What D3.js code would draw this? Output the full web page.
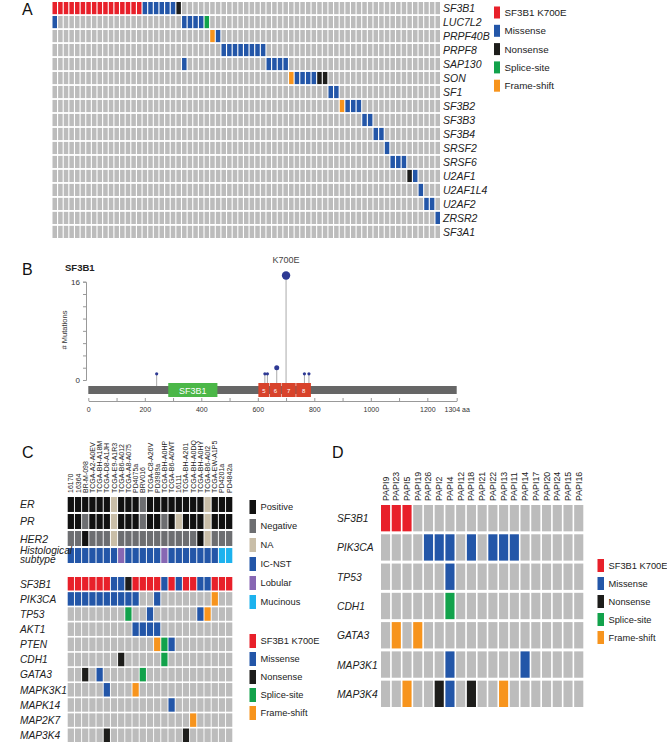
<!DOCTYPE html>
<html><head><meta charset="utf-8">
<script src="https://cdn.jsdelivr.net/npm/d3@7/dist/d3.min.js"></script>
<style>body{margin:0;background:#fff}text{font-family:"Liberation Sans",Arial,Helvetica,sans-serif}</style>
</head><body><svg id="chart" width="667" height="744"></svg>
<script>
// ---------- shared ----------
const mutationTypes = ["K", "M", "N", "S", "F"];
const mutationLabels = ["SF3B1 K700E", "Missense", "Nonsense", "Splice-site", "Frame-shift"];
const mutationColors = ["#e8202a", "#2356a8", "#1d1d1b", "#12a24b", "#f7941d"];
const emptyColor = "#bcbcbc";

// ---------- panel A ----------
const samplesA = 69;
const genesA = ["SF3B1","LUC7L2","PRPF40B","PRPF8","SAP130","SON","SF1","SF3B2","SF3B3","SF3B4","SRSF2","SRSF6","U2AF1","U2AF1L4","U2AF2","ZRSR2","SF3A1"];
// runs: [gene, first sample, last sample, type]
const mutationRunsA = [
  ["SF3B1",0,15,"K"],["SF3B1",16,21,"M"],["SF3B1",22,22,"N"],
  ["LUC7L2",0,0,"M"],["LUC7L2",23,26,"M"],["LUC7L2",27,27,"S"],
  ["PRPF40B",28,28,"F"],["PRPF40B",29,29,"M"],
  ["PRPF8",30,37,"M"],
  ["SAP130",23,23,"M"],["SAP130",38,41,"M"],
  ["SON",42,42,"F"],["SON",43,46,"M"],["SON",47,48,"N"],
  ["SF1",49,50,"M"],
  ["SF3B2",51,51,"F"],["SF3B2",52,54,"M"],
  ["SF3B3",55,56,"M"],
  ["SF3B4",57,58,"M"],
  ["SRSF2",59,59,"M"],
  ["SRSF6",60,62,"M"],
  ["U2AF1",63,63,"N"],["U2AF1",64,64,"M"],
  ["U2AF1L4",65,65,"M"],
  ["U2AF2",66,67,"M"],
  ["ZRSR2",68,68,"M"]
];

// ---------- panel B ----------
const proteinLength = 1304;
const lolliPositions = [242, 625, 634, 667, 700, 765, 781];
const lolliCounts = [1, 1, 1, 2, 17, 1, 1];
const domainLabels = ["SF3B1", "5", "6", "7", "8"];
const domainStarts = [283, 602, 643, 684, 736];
const domainEnds = [457, 641, 682, 734, 788];
const xTicksB = [0,100,200,300,400,500,600,700,800,900,1000,1100,1200,1304];
const yTicksB = [0,2,4,6,8,10,12,14,16];

// ---------- panel C ----------
const samplesC = ["16170","16364","BR-M-098","TCGA-A2-A0EV","TCGA-BH-A18M","TCGA-D8-A1JH","TCGA-E9-A1R3","TCGA-B6-A012","TCGA-A8-A075","PD4075a","BRV016","TCGA-C8-A26V","PD3989a","TCGA-BH-A0HP","TCGA-B6-A0WT","16111","TCGA-BH-A201","TCGA-BH-A0DQ","TCGA-BH-A0HY","TCGA-B6-A0I2","TCGA-EW-A1P5","PD4201a","PD4842a"];
const clinicalRowsC = ["ER","PR","HER2","Histological subtype"];
const erStatus   = "PPPPPPAPPPNPPPPPPPPAPPP";
const prStatus   = "PPNPPPAPPPNPPNPAPPPAPPP";
const her2Status = "NNPNNNANNNNNNNNNNNPANNN";
const histology  = "IIIIIIILIIIIILIIIIIIIMM";
const clinicalCodes = ["P","N","A","I","L","M"];
const clinicalLabels = ["Positive","Negative","NA","IC-NST","Lobular","Mucinous"];
const clinicalColors = ["#111111","#6d6e71","#c9bea8","#2356a8","#8767b3","#1cb2ee"];
const genesC = ["SF3B1","PIK3CA","TP53","AKT1","PTEN","CDH1","GATA3","MAPK3K1","MAPK14","MAP2K7","MAP3K4"];
const mutationsC = [
  "KKKKKKMMNKKKKMKMKKMMKKK",
  "MMMMMMMMMM..M.......F..",
  "........S..M......MF...",
  ".........MMMM..........",
  "............FSM........",
  ".......N.....S.........",
  "..N.M.....S............",
  ".....M...F.............",
  "..............M........",
  ".................F.....",
  ".....N..........N......"
];

// ---------- panel D ----------
const samplesD = ["PAPI9","PAPI23","PAPI5","PAPI19","PAPI26","PAPI2","PAPI4","PAPI12","PAPI18","PAPI21","PAPI22","PAPI13","PAPI11","PAPI14","PAPI17","PAPI20","PAPI24","PAPI15","PAPI16"];
const genesD = ["SF3B1","PIK3CA","TP53","CDH1","GATA3","MAP3K1","MAP3K4"];
const mutationsD = [
  "KKK................",
  "....MMM.M.MMM......",
  "......M............",
  "......S............",
  ".F.F...............",
  "......M......M.....",
  "..F..NM.N..F......."
];

// ================= drawing =================
const svg = d3.select("#chart");
svg.append("rect").attr("width", 667).attr("height", 744).attr("fill", "#fff");
const mutColor = d3.scaleOrdinal().domain(mutationTypes).range(mutationColors).unknown(emptyColor);
const clinColor = d3.scaleOrdinal().domain(clinicalCodes).range(clinicalColors);

function panelLetter(t, x, y) {
  svg.append("text").attr("x", x).attr("y", y).attr("font-size", 16).attr("fill", "#111").text(t);
}
function legend(g, labels, colors, x, y0, step, sw, sh, fs) {
  labels.forEach((l, i) => {
    const cy = y0 + i * step;
    g.append("rect").attr("x", x).attr("y", cy - sh / 2).attr("width", sw).attr("height", sh).attr("fill", colors[i]);
    g.append("text").attr("x", x + sw + 4.5).attr("y", cy + fs * 0.36).attr("font-size", fs).attr("fill", "#222").text(l);
  });
}

// ---- Panel A ----
{
  const g = svg.append("g");
  panelLetter("A", 22, 15);
  const x = d3.scaleBand().domain(d3.range(samplesA)).range([52.5, 440]).paddingInner(0.2);
  const y = d3.scaleBand().domain(genesA).range([2, 238]).paddingInner(0.13);
  const cellType = {};
  mutationRunsA.forEach(([gname, a, b, t]) => { for (let i = a; i <= b; i++) cellType[gname + "|" + i] = t; });
  const cells = [];
  genesA.forEach(gn => d3.range(samplesA).forEach(i => cells.push({gn, i, t: cellType[gn + "|" + i]})));
  g.selectAll("rect.c").data(cells).join("rect").attr("class", "c")
    .attr("x", d => x(d.i)).attr("y", d => y(d.gn)).attr("width", x.bandwidth()).attr("height", y.bandwidth())
    .attr("fill", d => mutColor(d.t));
  g.selectAll("text.g").data(genesA).join("text").attr("class", "g")
    .attr("x", 443).attr("y", d => y(d) + y.bandwidth() / 2 + 3.8).attr("font-size", 10.5).attr("font-style", "italic").attr("fill", "#222").text(d => d);
  legend(g, mutationLabels, mutationColors, 494, 12.5, 18.3, 6, 12, 9.8);
}

// ---- Panel B ----
{
  const g = svg.append("g");
  panelLetter("B", 22, 275);
  g.append("text").attr("x", 65).attr("y", 271).attr("font-size", 9.5).attr("font-weight", "bold").attr("fill", "#222").text("SF3B1");
  const x = d3.scaleLinear().domain([0, proteinLength]).range([88.3, 456.7]);
  const y = d3.scaleLinear().domain([0, 16]).range([380, 281.7]);
  const r = d3.scaleLinear().domain([1, 2, 17]).range([1.6, 2.5, 4.2]);
  const ya = g.append("g").attr("transform", "translate(86,0)")
    .call(d3.axisLeft(y).tickValues(yTicksB).tickSize(3).tickFormat(d => (d === 0 || d === 16) ? d : ""));
  ya.select(".domain").attr("stroke", "#999");
  ya.selectAll(".tick line").attr("stroke", "#999");
  ya.selectAll(".tick text").attr("font-size", 8).attr("fill", "#333").attr("font-family", "Liberation Sans, Arial, sans-serif");
  g.append("text").attr("transform", "translate(67,330) rotate(-90)").attr("text-anchor", "middle").attr("font-size", 7.5).attr("fill", "#333").text("# Mutations");
  g.selectAll("line.s").data(lolliPositions).join("line").attr("class", "s")
    .attr("x1", d => x(d)).attr("x2", d => x(d)).attr("y1", 386).attr("y2", (d, i) => y(lolliCounts[i]))
    .attr("stroke", "#aaa").attr("stroke-width", 1);
  g.append("rect").attr("x", x(0)).attr("y", 386).attr("width", x(proteinLength) - x(0)).attr("height", 8).attr("fill", "#666");
  domainLabels.forEach((l, i) => {
    const isMain = i === 0;
    g.append("rect").attr("x", x(domainStarts[i])).attr("y", 383).attr("width", x(domainEnds[i]) - x(domainStarts[i])).attr("height", 14)
      .attr("fill", isMain ? "#4bb748" : "#d8432b");
    g.append("text").attr("x", (x(domainStarts[i]) + x(domainEnds[i])) / 2).attr("y", isMain ? 393.5 : 392.5).attr("text-anchor", "middle")
      .attr("font-size", isMain ? 9 : 6).attr("fill", "#fff").text(l);
  });
  g.selectAll("circle.h").data(lolliPositions).join("circle").attr("class", "h")
    .attr("cx", d => x(d)).attr("cy", (d, i) => y(lolliCounts[i])).attr("r", (d, i) => r(lolliCounts[i])).attr("fill", "#2e3a94");
  const top = lolliCounts.indexOf(d3.max(lolliCounts));
  g.append("text").attr("x", x(lolliPositions[top])).attr("y", 263).attr("text-anchor", "middle").attr("font-size", 9).attr("fill", "#444").text("K700E");
  const xa = g.append("g").attr("transform", "translate(0,401)")
    .call(d3.axisBottom(x).tickValues(xTicksB).tickSizeInner(-3).tickSizeOuter(0).tickPadding(6)
      .tickFormat(d => d === proteinLength ? "1304 aa" : (d % 200 === 0 ? d : "")));
  xa.select(".domain").attr("stroke", "#999");
  xa.selectAll(".tick line").attr("stroke", "#999");
  xa.selectAll(".tick text").attr("font-size", 7).attr("fill", "#333").attr("font-family", "Liberation Sans, Arial, sans-serif");
}

// ---- Panel C ----
{
  const g = svg.append("g");
  panelLetter("C", 22, 458);
  const x = d3.scaleBand().domain(d3.range(samplesC.length)).range([67.7, 232.3]).paddingInner(0.13);
  const yc = d3.scaleBand().domain(clinicalRowsC).range([497, 563]).paddingInner(0.12);
  const yg = d3.scaleBand().domain(genesC).range([577, 742]).paddingInner(0.11);
  g.selectAll("text.s").data(samplesC).join("text").attr("class", "s")
    .attr("transform", (d, i) => `translate(${x(i) + x.bandwidth() / 2 + 2.5},493) rotate(-90)`)
    .attr("font-size", 7).attr("fill", "#222").text(d => d);
  const clinRows = [erStatus, prStatus, her2Status, histology];
  const clinCells = [];
  clinRows.forEach((s, r) => s.split("").forEach((c, i) => clinCells.push({row: clinicalRowsC[r], i, c})));
  g.selectAll("rect.cl").data(clinCells).join("rect").attr("class", "cl")
    .attr("x", d => x(d.i)).attr("y", d => yc(d.row)).attr("width", x.bandwidth()).attr("height", yc.bandwidth())
    .attr("fill", d => clinColor(d.c));
  const mutCells = [];
  mutationsC.forEach((s, r) => s.split("").forEach((c, i) => mutCells.push({row: genesC[r], i, c})));
  g.selectAll("rect.m").data(mutCells).join("rect").attr("class", "m")
    .attr("x", d => x(d.i)).attr("y", d => yg(d.row)).attr("width", x.bandwidth()).attr("height", yg.bandwidth())
    .attr("fill", d => mutColor(d.c));
  ["ER","PR","HER2"].forEach(l => g.append("text").attr("x", 20).attr("y", yc(l) + yc.bandwidth() / 2 + 4)
    .attr("font-size", 10.5).attr("font-style", "italic").attr("fill", "#222").text(l));
  const hy = yc("Histological subtype") + yc.bandwidth() / 2;
  g.append("text").attr("x", 20).attr("y", hy - 2).attr("font-size", 10.2).attr("font-style", "italic").attr("fill", "#222").text("Histological");
  g.append("text").attr("x", 20).attr("y", hy + 7.8).attr("font-size", 10.2).attr("font-style", "italic").attr("fill", "#222").text("subtype");
  g.selectAll("text.gc").data(genesC).join("text").attr("class", "gc")
    .attr("x", 20).attr("y", d => yg(d) + yg.bandwidth() / 2 + 3.8).attr("font-size", 10.2).attr("font-style", "italic").attr("fill", "#222").text(d => d);
  legend(g, clinicalLabels, clinicalColors, 249.5, 507, 19, 6.5, 14, 9.3);
  legend(g, mutationLabels, mutationColors, 249.5, 641, 18, 6.5, 14, 9.3);
}

// ---- Panel D ----
{
  const g = svg.append("g");
  panelLetter("D", 332, 458);
  const x = d3.scaleBand().domain(d3.range(samplesD.length)).range([381, 583.3]).paddingInner(0.15);
  const y = d3.scaleBand().domain(genesD).range([505, 707]).paddingInner(0.1);
  g.selectAll("text.s").data(samplesD).join("text").attr("class", "s")
    .attr("transform", (d, i) => `translate(${x(i) + x.bandwidth() / 2 + 3},501) rotate(-90)`)
    .attr("font-size", 8.8).attr("fill", "#222").text(d => d);
  const cells = [];
  mutationsD.forEach((s, r) => s.split("").forEach((c, i) => cells.push({row: genesD[r], i, c})));
  g.selectAll("rect.m").data(cells).join("rect").attr("class", "m")
    .attr("x", d => x(d.i)).attr("y", d => y(d.row)).attr("width", x.bandwidth()).attr("height", y.bandwidth())
    .attr("fill", d => mutColor(d.c));
  g.selectAll("text.gd").data(genesD).join("text").attr("class", "gd")
    .attr("x", 337).attr("y", d => y(d) + y.bandwidth() / 2 + 4).attr("font-size", 10.3).attr("font-style", "italic").attr("fill", "#222").text(d => d);
  legend(g, mutationLabels, mutationColors, 597.5, 565.5, 18, 6.5, 13, 9.3);
}
</script></body></html>
